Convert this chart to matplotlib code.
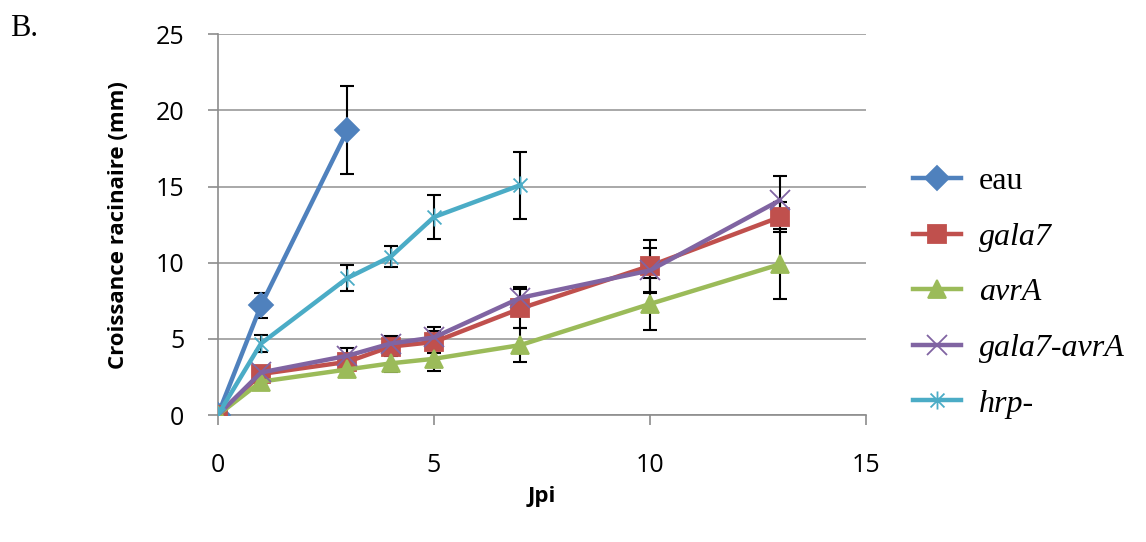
import matplotlib
matplotlib.use("Agg")
import matplotlib.pyplot as plt
from matplotlib.path import Path
from matplotlib.lines import Line2D

# data
labels = ["eau", "gala7", "avrA", "gala7-avrA", "hrp-"]
colors = ["#4F81BD", "#C0504D", "#9BBB59", "#8064A2", "#4BACC6"]

x_eau = [0, 1, 3]
y_eau = [0, 7.2, 18.7]
e_eau = [0, 0.8, 2.9]

x_gala7 = [0, 1, 3, 4, 5, 7, 10, 13]
y_gala7 = [0, 2.7, 3.5, 4.5, 4.8, 7.0, 9.8, 13.0]
e_gala7 = [0, 0.4, 0.5, 0.6, 0.7, 1.3, 1.7, 1.0]

x_avrA = [0, 1, 3, 4, 5, 7, 10, 13]
y_avrA = [0, 2.2, 3.0, 3.4, 3.7, 4.6, 7.3, 9.9]
e_avrA = [0, 0.3, 0.4, 0.6, 0.8, 1.1, 1.7, 2.3]

x_ga = [0, 1, 3, 4, 5, 7, 10, 13]
y_ga = [0, 2.8, 3.9, 4.7, 5.1, 7.7, 9.5, 14.1]
e_ga = [0, 0.4, 0.5, 0.5, 0.7, 0.7, 1.5, 1.6]

x_hrp = [0, 1, 3, 4, 5, 7]
y_hrp = [0, 4.7, 9.0, 10.4, 13.0, 15.1]
e_hrp = [0, 0.55, 0.85, 0.7, 1.45, 2.2]

series = [(x_eau, y_eau, e_eau), (x_gala7, y_gala7, e_gala7),
          (x_avrA, y_avrA, e_avrA), (x_ga, y_ga, e_ga), (x_hrp, y_hrp, e_hrp)]

# excel style star: X plus a vertical bar
star = Path([(-1, -1), (1, 1), (-1, 1), (1, -1), (0, -1.3), (0, 1.3)],
            [Path.MOVETO, Path.LINETO, Path.MOVETO, Path.LINETO, Path.MOVETO, Path.LINETO])
markers = ["D", "s", "^", "x", star]
msizes = [12, 13, 13, 14, 13]

fig = plt.figure(figsize=(11.46, 5.42), dpi=100)
ax = fig.add_axes([0.190, 0.234, 0.566, 0.703])

for (xs, ys, es), c, m, ms in zip(series, colors, markers, msizes):
    ax.errorbar(xs, ys, yerr=es, fmt="none", ecolor="black", elinewidth=1.5,
                capsize=5, capthick=1.5, zorder=2)
    ax.plot(xs, ys, color=c, lw=3.2, marker=m, markersize=ms,
            markeredgecolor=c, markerfacecolor=c, markeredgewidth=1.3, zorder=3)

ax.set_xlim(0, 15)
ax.set_ylim(0, 25)
ax.set_xticks([0, 5, 10, 15])
ax.set_yticks([0, 5, 10, 15, 20, 25])
ax.yaxis.grid(True, color="#9a9a9a", lw=1.2)
ax.set_axisbelow(True)
for s in ["top", "right"]:
    ax.spines[s].set_visible(False)
for s in ["left", "bottom"]:
    ax.spines[s].set_color("#8c8c8c")
    ax.spines[s].set_linewidth(1.2)
ax.tick_params(axis="both", colors="#8c8c8c", length=7, width=1.2, labelsize=18,
               labelcolor="black")
ax.tick_params(axis="x", pad=20)
ax.tick_params(axis="y", pad=17)
for t in ax.get_xticklabels() + ax.get_yticklabels():
    t.set_fontfamily("Open Sans")

ax.set_ylabel("Croissance racinaire (mm)", fontsize=16, fontweight="bold",
              fontfamily="Open Sans", labelpad=19)
ax.set_xlabel("Jpi", fontsize=16, fontweight="bold", fontfamily="Open Sans", labelpad=6)

fig.text(0.009, 0.975, "B.", fontsize=22, fontfamily="Liberation Serif", va="top")

handles = []
for c, m, ms in zip(colors, markers, msizes):
    handles.append(Line2D([], [], color=c, lw=3.2, marker=m, markersize=ms,
                          markeredgecolor=c, markerfacecolor=c, markeredgewidth=1.3))
leg = fig.legend(handles, labels, loc="upper left", bbox_to_anchor=(0.797, 0.692),
                 frameon=False, labelspacing=0.82, handlelength=1.5, handletextpad=0.55,
                 borderaxespad=0, borderpad=0,
                 prop={"family": "Liberation Serif", "size": 23})
for i, t in enumerate(leg.get_texts()):
    if i > 0:
        t.set_fontstyle("italic")

fig.savefig("out.png", dpi=100)
